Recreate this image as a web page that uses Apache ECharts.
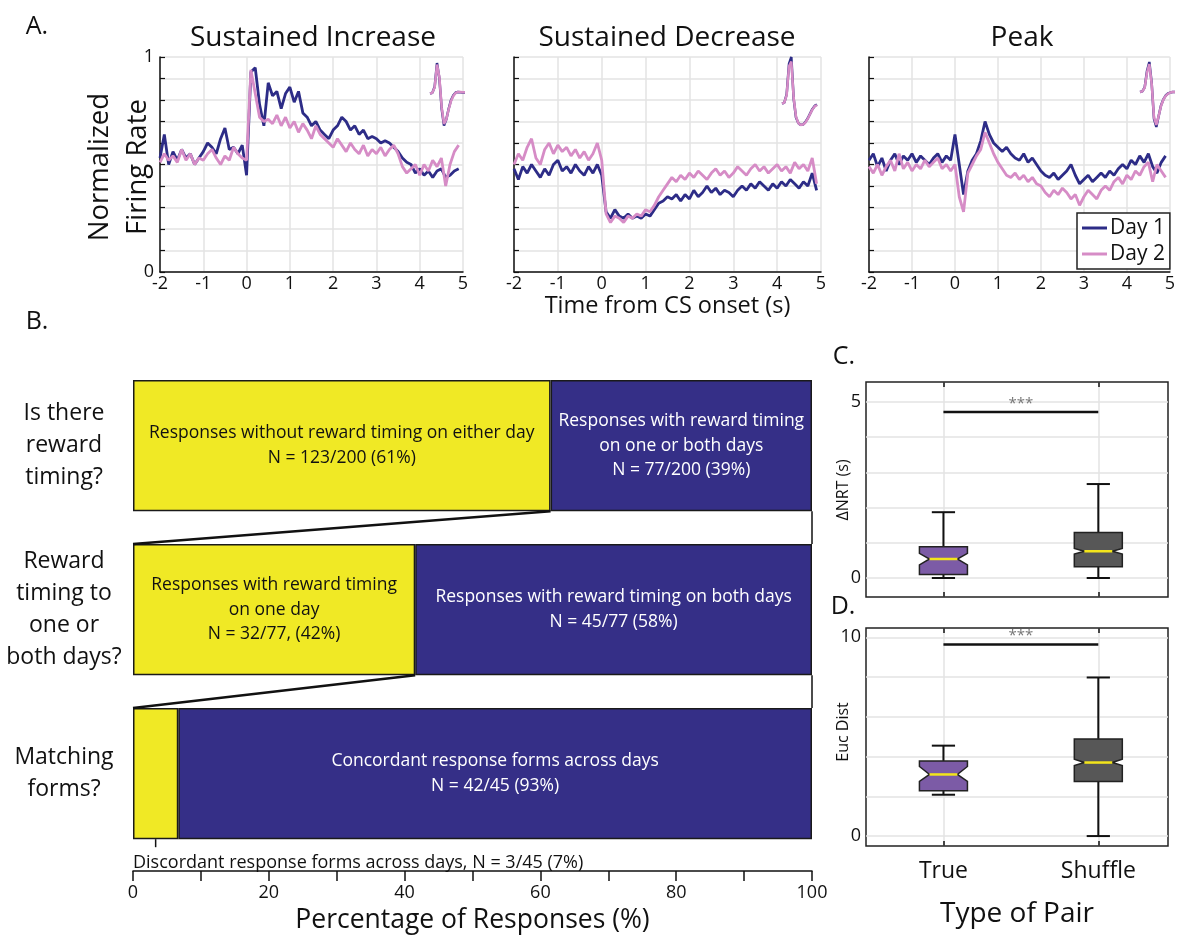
<!DOCTYPE html>
<html>
<head>
<meta charset="utf-8">
<title>Response forms across days</title>
<script src="https://cdn.jsdelivr.net/npm/echarts@6/dist/echarts.min.js"></script>
<style>
html, body { margin: 0; padding: 0; background: #fff; }
#chart { width: 1178px; height: 939px; }
</style>
</head>
<body>
<div id="chart"></div>
<script>
// ---- data: panel A (normalized firing rate, 0.1 s bins) ----
const timeS = [-2.0, -1.9, -1.8, -1.7, -1.6, -1.5, -1.4, -1.3, -1.2, -1.1,
  -1.0, -0.9, -0.8, -0.7, -0.6, -0.5, -0.4, -0.3, -0.2, -0.1,
  0.0, 0.1, 0.2, 0.3, 0.4, 0.5, 0.6, 0.7, 0.8, 0.9,
  1.0, 1.1, 1.2, 1.3, 1.4, 1.5, 1.6, 1.7, 1.8, 1.9,
  2.0, 2.1, 2.2, 2.3, 2.4, 2.5, 2.6, 2.7, 2.8, 2.9,
  3.0, 3.1, 3.2, 3.3, 3.4, 3.5, 3.6, 3.7, 3.8, 3.9,
  4.0, 4.1, 4.2, 4.3, 4.4, 4.5, 4.6, 4.7, 4.8, 4.9]

const incDay1 = [0.53, 0.64, 0.50, 0.56, 0.52, 0.57, 0.53, 0.55, 0.50, 0.53,
  0.56, 0.60, 0.58, 0.55, 0.62, 0.67, 0.57, 0.58, 0.55, 0.59,
  0.45, 0.93, 0.95, 0.78, 0.68, 0.88, 0.82, 0.84, 0.76, 0.83,
  0.86, 0.79, 0.84, 0.74, 0.72, 0.68, 0.70, 0.66, 0.64, 0.62,
  0.66, 0.68, 0.72, 0.70, 0.66, 0.68, 0.64, 0.66, 0.62, 0.63,
  0.62, 0.60, 0.61, 0.60, 0.58, 0.56, 0.53, 0.51, 0.50, 0.46,
  0.48, 0.45, 0.47, 0.44, 0.47, 0.48, 0.44, 0.45, 0.47, 0.48]
const incDay2 = [0.51, 0.55, 0.52, 0.54, 0.51, 0.57, 0.52, 0.55, 0.50, 0.53,
  0.52, 0.55, 0.57, 0.53, 0.50, 0.54, 0.52, 0.58, 0.55, 0.53,
  0.52, 0.94, 0.83, 0.72, 0.70, 0.71, 0.69, 0.73, 0.68, 0.72,
  0.67, 0.70, 0.65, 0.69, 0.66, 0.62, 0.68, 0.64, 0.62, 0.60,
  0.58, 0.62, 0.59, 0.56, 0.60, 0.57, 0.55, 0.59, 0.54, 0.57,
  0.55, 0.58, 0.54, 0.57, 0.59, 0.55, 0.49, 0.46, 0.48, 0.50,
  0.45, 0.50, 0.47, 0.52, 0.49, 0.53, 0.40, 0.50, 0.56, 0.59]

const decDay1 = [0.48, 0.43, 0.49, 0.46, 0.50, 0.47, 0.44, 0.48, 0.45, 0.50,
  0.52, 0.47, 0.49, 0.46, 0.50, 0.47, 0.45, 0.49, 0.46, 0.50,
  0.45, 0.28, 0.25, 0.29, 0.26, 0.25, 0.27, 0.25, 0.26, 0.25,
  0.27, 0.26, 0.29, 0.32, 0.33, 0.35, 0.34, 0.36, 0.33, 0.36,
  0.34, 0.38, 0.35, 0.37, 0.40, 0.37, 0.39, 0.36, 0.38, 0.37,
  0.35, 0.38, 0.40, 0.38, 0.41, 0.39, 0.42, 0.40, 0.38, 0.41,
  0.39, 0.42, 0.40, 0.43, 0.41, 0.39, 0.42, 0.40, 0.46, 0.38]
const decDay2 = [0.50, 0.55, 0.52, 0.58, 0.62, 0.53, 0.50, 0.57, 0.60, 0.55,
  0.59, 0.56, 0.58, 0.54, 0.57, 0.53, 0.56, 0.52, 0.55, 0.60,
  0.52, 0.27, 0.23, 0.26, 0.25, 0.23, 0.26, 0.25, 0.27, 0.26,
  0.29, 0.28, 0.31, 0.35, 0.38, 0.41, 0.44, 0.42, 0.45, 0.43,
  0.46, 0.44, 0.47, 0.45, 0.43, 0.46, 0.48, 0.45, 0.47, 0.44,
  0.46, 0.49, 0.47, 0.45, 0.48, 0.50, 0.47, 0.49, 0.46, 0.48,
  0.50, 0.47, 0.49, 0.46, 0.51, 0.48, 0.50, 0.47, 0.53, 0.41]

const peakDay1 = [0.52, 0.55, 0.49, 0.53, 0.47, 0.52, 0.55, 0.50, 0.54, 0.52,
  0.55, 0.51, 0.54, 0.52, 0.50, 0.53, 0.55, 0.51, 0.54, 0.52,
  0.64, 0.50, 0.36, 0.47, 0.52, 0.55, 0.61, 0.70, 0.64, 0.60,
  0.58, 0.56, 0.58, 0.55, 0.53, 0.52, 0.55, 0.51, 0.53, 0.50,
  0.47, 0.45, 0.44, 0.46, 0.43, 0.45, 0.47, 0.50, 0.45, 0.41,
  0.43, 0.45, 0.42, 0.44, 0.46, 0.44, 0.47, 0.45, 0.48, 0.50,
  0.48, 0.52, 0.50, 0.54, 0.51, 0.55, 0.49, 0.46, 0.51, 0.54]
const peakDay2 = [0.49, 0.46, 0.50, 0.45, 0.49, 0.52, 0.47, 0.55, 0.48, 0.51,
  0.47, 0.50, 0.48, 0.52, 0.49, 0.51, 0.53, 0.48, 0.50, 0.47,
  0.50, 0.35, 0.28, 0.46, 0.50, 0.54, 0.57, 0.65, 0.60, 0.55,
  0.51, 0.48, 0.45, 0.44, 0.46, 0.43, 0.45, 0.42, 0.44, 0.41,
  0.40, 0.37, 0.35, 0.38, 0.36, 0.39, 0.37, 0.34, 0.36, 0.31,
  0.35, 0.38, 0.36, 0.34, 0.38, 0.40, 0.38, 0.42, 0.44, 0.41,
  0.45, 0.43, 0.47, 0.45, 0.49, 0.51, 0.42, 0.50, 0.47, 0.44]

// spike waveform insets (sample index, relative amplitude)
const waveIdx = [0, 1, 2, 3, 4, 5, 6, 7, 8, 9, 10, 11, 12, 13, 14, 15]
const incWave1 = [0, 0.02, 0.22, 1.0, 0.5, -0.5, -1.05, -0.85, -0.5, -0.22, -0.06, 0.03, 0.05, 0.04, 0.03, 0.03]
const incWave2 = [0, 0.02, 0.2, 0.95, 0.55, -0.45, -1.0, -0.85, -0.52, -0.25, -0.08, 0.02, 0.05, 0.05, 0.04, 0.04]
const decWave1 = [0, 0.02, 0.2, 0.85, 1.0, 0.1, -0.3, -0.42, -0.46, -0.45, -0.4, -0.32, -0.22, -0.12, -0.05, -0.02]
const decWave2 = [0, 0.02, 0.18, 0.8, 0.9, 0.12, -0.28, -0.42, -0.46, -0.45, -0.41, -0.33, -0.23, -0.13, -0.06, -0.03]
const peakWave1 = [0, 0.02, 0.15, 0.7, 1.0, 0.3, -0.9, -1.17, -0.8, -0.45, -0.25, -0.12, -0.05, -0.02, 0, 0]
const peakWave2 = [0, 0.02, 0.14, 0.65, 0.93, 0.28, -0.85, -1.1, -0.8, -0.47, -0.26, -0.13, -0.06, -0.02, 0, 0]

// ---- data: panel B (percentage of responses) ----
const questions = ['Is there\nreward\ntiming?', 'Reward\ntiming to\none or\nboth days?', 'Matching\nforms?']
const noPct = [61.5, 41.56, 6.67]
const yesPct = [38.5, 58.44, 93.33]
const noText = ['Responses without reward timing on either day\nN = 123/200 (61%)',
  'Responses with reward timing\non one day\nN = 32/77, (42%)', '']
const yesText = ['Responses with reward timing\non one or both days\nN = 77/200 (39%)',
  'Responses with reward timing on both days\nN = 45/77 (58%)',
  'Concordant response forms across days\nN = 42/45 (93%)']
const discordText = 'Discordant response forms across days, N = 3/45 (7%)'

// ---- data: panels C, D (boxplots) ----
const pairTypes = ['True', 'Shuffle']
const pairPos = [1, 2]
const nrtMin = [0, 0]
const nrtQ1 = [0.10, 0.32]
const nrtMed = [0.54, 0.76]
const nrtQ3 = [0.89, 1.29]
const nrtMax = [1.87, 2.67]
const nrtNotchLo = [0.37, 0.68]
const nrtNotchHi = [0.70, 0.84]
const nrtSigY = 4.72
const eucMin = [2.08, 0]
const eucQ1 = [2.28, 2.74]
const eucMed = [3.10, 3.70]
const eucQ3 = [3.78, 4.89]
const eucMax = [4.55, 7.98]
const eucNotchLo = [2.75, 3.55]
const eucNotchHi = [3.50, 3.87]
const eucSigY = 9.64

const DAY1 = '#2d2c87'
const DAY2 = '#d68cc6'
const YELLOW = '#f0e925'
const BLUE = '#352f87'
const GRIDC = '#e3e3e3'
const FONT = 'Open Sans'

const zip = (xs, ys) => xs.map((x, i) => [x, ys[i]])

// panel A axes
const aGrids = [
  { left: 160, top: 57, width: 303, height: 215 },
  { left: 514, top: 57, width: 307, height: 215 },
  { left: 869, top: 57, width: 306, height: 215 }
]
const insetGrids = [
  { left: 430, top: 63, width: 35, height: 64 },
  { left: 782, top: 57, width: 35, height: 68 },
  { left: 1140, top: 62, width: 35, height: 65 }
]
const insetRange = [[-1.1, 1.0], [-0.46, 1.0], [-1.17, 1.0]]

const xAxes = []
const yAxes = []
aGrids.forEach((g, i) => {
  xAxes.push({
    type: 'value', gridIndex: i, min: -2, max: 5, interval: 1, position: 'bottom',
    axisLine: { onZero: false, lineStyle: { color: '#111', width: 1.5 } },
    axisTick: { show: false },
    splitLine: { lineStyle: { color: GRIDC, width: 1.5 } },
    axisLabel: { fontSize: 18, color: '#111', margin: 3, fontFamily: FONT },
    name: i === 1 ? 'Time from CS onset (s)' : '',
    nameLocation: 'middle', nameGap: 21,
    nameTextStyle: { fontSize: 23.5, color: '#111', fontFamily: FONT }
  })
  yAxes.push({
    type: 'value', gridIndex: i, min: 0, max: 1, interval: 0.1, position: 'left',
    axisLine: { show: true, onZero: false, lineStyle: { color: '#111', width: 1.5 } },
    axisTick: { show: true, inside: true, length: 5, lineStyle: { color: '#111', width: 1.2 } },
    splitLine: { lineStyle: { color: GRIDC, width: 1.5 } },
    axisLabel: { show: i === 0, customValues: [0, 1], fontSize: 18, color: '#111', margin: 6, fontFamily: FONT }
  })
})
insetGrids.forEach((g, i) => {
  xAxes.push({ type: 'value', gridIndex: 3 + i, min: 0, max: 15, show: false })
  yAxes.push({ type: 'value', gridIndex: 3 + i, min: insetRange[i][0], max: insetRange[i][1], show: false })
})
// panel B
xAxes.push({
  type: 'value', gridIndex: 6, min: 0, max: 100, interval: 10, offset: 15.5,
  axisLine: { show: true, onZero: false, lineStyle: { color: '#111', width: 1.5 } },
  axisTick: { show: true, length: 10, lineStyle: { color: '#111', width: 1.5 } },
  splitLine: { show: false },
  axisLabel: { formatter: v => (v % 20 === 0 ? String(v) : ''), fontSize: 18, color: '#111', margin: 13, fontFamily: FONT },
  name: 'Percentage of Responses (%)', nameLocation: 'middle', nameGap: 33,
  nameTextStyle: { fontSize: 26.5, color: '#111', fontFamily: FONT }
})
yAxes.push({
  type: 'category', gridIndex: 6, data: questions, inverse: true,
  axisLine: { show: false }, axisTick: { show: false },
  axisLabel: { interval: 0, align: 'center', margin: 69, fontSize: 23, lineHeight: 32, color: '#111', fontFamily: FONT }
})
// panels C, D
function boxXAxes(gridIndex, withLabels) {
  return [{
    type: 'value', gridIndex: gridIndex, min: 0.5, max: 2.45, position: 'bottom',
    axisLine: { show: false, onZero: false },
    axisTick: { show: true, inside: true, length: 5, customValues: pairPos, lineStyle: { color: '#111', width: 1.5 } },
    splitLine: { show: true, lineStyle: { color: GRIDC, width: 1.5 } },
    axisLabel: {
      show: withLabels, customValues: pairPos, formatter: v => pairTypes[pairPos.indexOf(v)] || '',
      fontSize: 23, color: '#111', margin: 14, fontFamily: FONT
    },
    name: withLabels ? 'Type of Pair' : '', nameLocation: 'middle', nameGap: 54,
    nameTextStyle: { fontSize: 28, color: '#111', fontFamily: FONT }
  }, {
    type: 'value', gridIndex: gridIndex, min: 0.5, max: 2.45, position: 'top',
    axisLine: { show: false, onZero: false },
    axisTick: { show: true, inside: true, length: 5, customValues: pairPos, lineStyle: { color: '#111', width: 1.5 } },
    splitLine: { show: false }, axisLabel: { show: false }
  }]
}
xAxes.push(...boxXAxes(7, false))
xAxes.push(...boxXAxes(8, true))
yAxes.push({
  type: 'value', gridIndex: 7, min: -0.54, max: 5.57,
  axisLine: { show: false, onZero: false },
  axisTick: { show: false, customValues: [0, 1, 2, 3, 4, 5] },
  splitLine: { show: true, lineStyle: { color: GRIDC, width: 1.5 } },
  axisLabel: { customValues: [0, 5], fontSize: 18, color: '#111', margin: 5, fontFamily: FONT }
})
yAxes.push({
  type: 'value', gridIndex: 8, min: -0.5, max: 10.47,
  axisLine: { show: false, onZero: false },
  axisTick: { show: false, customValues: [0, 2, 4, 6, 8, 10] },
  splitLine: { show: true, lineStyle: { color: GRIDC, width: 1.5 } },
  axisLabel: { customValues: [0, 10], fontSize: 18, color: '#111', margin: 5, fontFamily: FONT }
})

// series
const series = []
const traces = [[incDay1, incDay2], [decDay1, decDay2], [peakDay1, peakDay2]]
traces.forEach((pair, i) => {
  ;[DAY1, DAY2].forEach((col, d) => {
    series.push({
      name: d === 0 ? 'Day 1' : 'Day 2', type: 'line', xAxisIndex: i, yAxisIndex: i,
      data: zip(timeS, pair[d]), showSymbol: false, symbol: 'none',
      itemStyle: { color: col }, lineStyle: { color: col, width: 2.8 }, z: 3 + d
    })
  })
})
const waves = [[incWave1, incWave2], [decWave1, decWave2], [peakWave1, peakWave2]]
waves.forEach((pair, i) => {
  ;[DAY1, DAY2].forEach((col, d) => {
    series.push({
      name: d === 0 ? 'wf1' : 'wf2', type: 'line', xAxisIndex: 3 + i, yAxisIndex: 3 + i,
      data: zip(waveIdx, pair[d]), showSymbol: false, symbol: 'none',
      itemStyle: { color: col }, lineStyle: { color: col, width: 2.5 }, z: 5 + d
    })
  })
})

const barLabel = (texts, color) => ({
  show: true, position: 'inside', formatter: p => texts[p.dataIndex],
  color: color, fontSize: 17.5, lineHeight: 24.5, fontFamily: FONT
})
series.push({
  name: 'no', type: 'bar', xAxisIndex: 6, yAxisIndex: 6, stack: 'resp', barWidth: '80%',
  data: noPct, itemStyle: { color: YELLOW, borderColor: '#1a1a1a', borderWidth: 1.5 },
  label: barLabel(noText, '#111')
})
series.push({
  name: 'yes', type: 'bar', xAxisIndex: 6, yAxisIndex: 6, stack: 'resp', barWidth: '80%',
  data: yesPct, itemStyle: { color: BLUE, borderColor: '#1a1a1a', borderWidth: 1.5 },
  label: barLabel(yesText, '#fff')
})
// zoom connectors between rows: [split %, from row, to row]
series.push({
  type: 'custom', xAxisIndex: 6, yAxisIndex: 6, z: 4, silent: true,
  data: [[noPct[0], 0, 1], [noPct[1], 1, 2]],
  encode: { x: 0, y: 1 },
  renderItem: (params, api) => {
    const half = api.size([0, 1])[1] * 0.4
    const a = api.coord([api.value(0), api.value(1)])
    const b = api.coord([0, api.value(2)])
    const ra = api.coord([100, api.value(1)])
    const rb = api.coord([100, api.value(2)])
    return {
      type: 'group', children: [
        { type: 'line', shape: { x1: a[0], y1: a[1] + half, x2: b[0], y2: b[1] - half }, style: { stroke: '#111', lineWidth: 2.5 } },
        { type: 'line', shape: { x1: ra[0], y1: ra[1] + half, x2: rb[0], y2: rb[1] - half }, style: { stroke: '#111', lineWidth: 1.5 } }
      ]
    }
  }
})
// pointer from the small discordant segment to its note
series.push({
  type: 'custom', xAxisIndex: 6, yAxisIndex: 6, z: 4, silent: true,
  data: [[noPct[2] / 2, 2]],
  encode: { x: 0, y: 1 },
  renderItem: (params, api) => {
    const half = api.size([0, 1])[1] * 0.4
    const p = api.coord([api.value(0), api.value(1)])
    return { type: 'line', shape: { x1: p[0], y1: p[1] + half, x2: p[0], y2: p[1] + half + 8 }, style: { stroke: '#111', lineWidth: 1.5 } }
  }
})

const boxColors = ['#7c5ba6', '#575757']
function boxSeries(axisIdx, yIdx, mn, q1, md, q3, mx, nlo, nhi) {
  return {
    type: 'custom', xAxisIndex: axisIdx, yAxisIndex: yIdx, z: 4, silent: true,
    data: pairPos.map((x, i) => [x, mn[i], q1[i], md[i], q3[i], mx[i], nlo[i], nhi[i]]),
    encode: { x: 0, y: [1, 5] },
    renderItem: (params, api) => {
      const x = api.value(0)
      const v = k => api.value(k)
      const P = (dx, y) => api.coord([x + dx, y])
      const w = 0.155, n = 0.09, cw = 0.075
      const ln = (p1, p2, col, lw) => ({ type: 'line', shape: { x1: p1[0], y1: p1[1], x2: p2[0], y2: p2[1] }, style: { stroke: col, lineWidth: lw } })
      const pts = [P(-w, v(2)), P(-w, v(6)), P(-n, v(3)), P(-w, v(7)), P(-w, v(4)),
        P(w, v(4)), P(w, v(7)), P(n, v(3)), P(w, v(6)), P(w, v(2))]
      return {
        type: 'group', children: [
          ln(P(0, v(4)), P(0, v(5)), '#111', 2),
          ln(P(0, v(2)), P(0, v(1)), '#111', 2),
          ln(P(-cw, v(5)), P(cw, v(5)), '#111', 2),
          ln(P(-cw, v(1)), P(cw, v(1)), '#111', 2),
          { type: 'polygon', shape: { points: pts }, style: { fill: boxColors[params.dataIndex], stroke: '#222', lineWidth: 1.5 } },
          ln(P(-n, v(3)), P(n, v(3)), '#f3e51b', 2.5)
        ]
      }
    }
  }
}
function sigSeries(axisIdx, yIdx, y) {
  return {
    type: 'custom', xAxisIndex: axisIdx, yAxisIndex: yIdx, z: 4, silent: true,
    data: [[pairPos[0], pairPos[1], y]],
    encode: { x: [0, 1], y: 2 },
    renderItem: (params, api) => {
      const a = api.coord([api.value(0), api.value(2)])
      const b = api.coord([api.value(1), api.value(2)])
      return {
        type: 'group', children: [
          { type: 'line', shape: { x1: a[0], y1: a[1], x2: b[0], y2: b[1] }, style: { stroke: '#111', lineWidth: 2.5 } },
          { type: 'text', x: (a[0] + b[0]) / 2, y: a[1] - 1, style: { text: '***', fill: '#777', font: '15px ' + FONT, align: 'center', verticalAlign: 'bottom' } }
        ]
      }
    }
  }
}
series.push(boxSeries(7, 7, nrtMin, nrtQ1, nrtMed, nrtQ3, nrtMax, nrtNotchLo, nrtNotchHi))
series.push(sigSeries(7, 7, nrtSigY))
series.push(boxSeries(9, 8, eucMin, eucQ1, eucMed, eucQ3, eucMax, eucNotchLo, eucNotchHi))
series.push(sigSeries(9, 8, eucSigY))

const T = (x, y, text, size, extra) => Object.assign({
  type: 'text', x: x, y: y, silent: true,
  style: Object.assign({ text: text, fill: '#111', font: size + 'px ' + FONT, align: 'center', verticalAlign: 'middle' }, extra || {})
})

const option = {
  animation: false,
  backgroundColor: '#fff',
  textStyle: { fontFamily: FONT },
  grid: [
    ...aGrids, ...insetGrids,
    { left: 133, top: 363.5, width: 679, height: 498 },
    { left: 866, top: 382, width: 302, height: 215, show: true, borderColor: '#222', borderWidth: 1.5 },
    { left: 866, top: 628, width: 302, height: 218, show: true, borderColor: '#222', borderWidth: 1.5 }
  ],
  xAxis: xAxes,
  yAxis: yAxes,
  legend: {
    data: ['Day 1', 'Day 2'], orient: 'vertical', left: 1077, top: 213,
    icon: 'rect', itemWidth: 25, itemHeight: 3, itemGap: 2, padding: [3, 5, 3, 5],
    borderColor: '#222', borderWidth: 1.5, backgroundColor: '#fff',
    textStyle: { fontSize: 21, lineHeight: 24, color: '#111', fontFamily: FONT, padding: [0, 0, 0, -2] }
  },
  graphic: [
    T(37, 27, 'A.', 25),
    T(37, 322, 'B.', 25),
    T(844, 357, 'C.', 25),
    T(843, 607, 'D.', 25),
    T(313, 38, 'Sustained Increase', 28),
    T(667, 38, 'Sustained Decrease', 28),
    T(1022, 38, 'Peak', 28),
    Object.assign(T(119, 167, 'Normalized\nFiring Rate', 27.5, { lineHeight: 38 }), { rotation: Math.PI / 2 }),
    Object.assign(T(843, 490, 'ΔNRT (s)', 16), { rotation: Math.PI / 2 }),
    Object.assign(T(843, 732, 'Euc Dist', 16), { rotation: Math.PI / 2 }),
    T(133, 863, discordText, 18, { align: 'left' })
  ],
  series: series
}

const chart = echarts.init(document.getElementById('chart'))
chart.setOption(option)
</script>
</body>
</html>
